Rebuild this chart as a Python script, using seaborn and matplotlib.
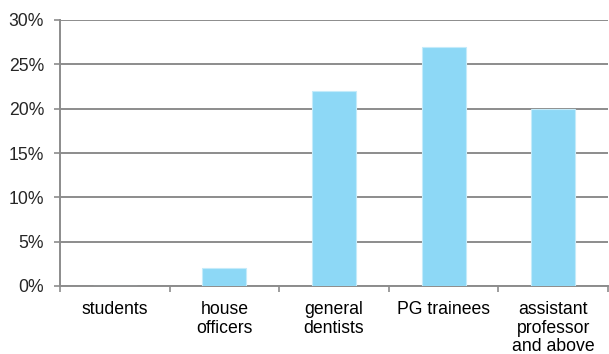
import matplotlib
matplotlib.use("Agg")
import matplotlib.pyplot as plt
import seaborn as sns
import pandas as pd
from matplotlib.ticker import FuncFormatter, MultipleLocator

categories = ["students", "house\nofficers", "general\ndentists", "PG trainees", "assistant\nprofessor\nand above"]
values = [0, 2, 22, 27, 20]

sns.set_theme(style="white")
plt.rcParams['font.family'] = ['Liberation Sans', 'DejaVu Sans']

df = pd.DataFrame({"cat": categories, "val": values})

fig = plt.figure(figsize=(6.09, 3.54), dpi=100)
ax = fig.add_axes([60/609, 1-286/354, 548/609, 266/354])

sns.barplot(data=df, x="cat", y="val", ax=ax, color="#8DD8F6", width=0.4,
            edgecolor="#C4EBFA", linewidth=0.8, saturation=1, zorder=3)

ax.set_ylim(0, 30)
ax.set_xlim(-0.5, len(categories) - 0.5)
ax.yaxis.set_major_locator(MultipleLocator(5))
ax.yaxis.set_major_formatter(FuncFormatter(lambda v, p: f"{int(v)}%"))
ax.grid(axis="y", color="#8C8C8C", linewidth=1.4, zorder=0)
ax.set_axisbelow(True)

for s in ["top", "right"]:
    ax.spines[s].set_visible(False)
for s in ["left", "bottom"]:
    ax.spines[s].set_color("#8C8C8C")
    ax.spines[s].set_linewidth(1.4)

ax.set_xlabel("")
ax.set_ylabel("")
ax.tick_params(axis="x", which="major", length=0, pad=11, labelsize=12.7, colors="#000000")
ax.set_xticks([i - 0.5 for i in range(len(categories) + 1)], minor=True)
ax.tick_params(axis="x", which="minor", length=4.5, width=1.2, color="#8C8C8C", direction="out", bottom=True)
ax.tick_params(axis="y", which="major", length=4.5, width=1.2, color="#8C8C8C", direction="out", left=True, labelsize=12.7, pad=7)
for lab in ax.get_xticklabels():
    lab.set_ha("center")
    lab.set_multialignment("center")
    lab.set_linespacing(1.12)

fig.savefig("out.png", dpi=100)
